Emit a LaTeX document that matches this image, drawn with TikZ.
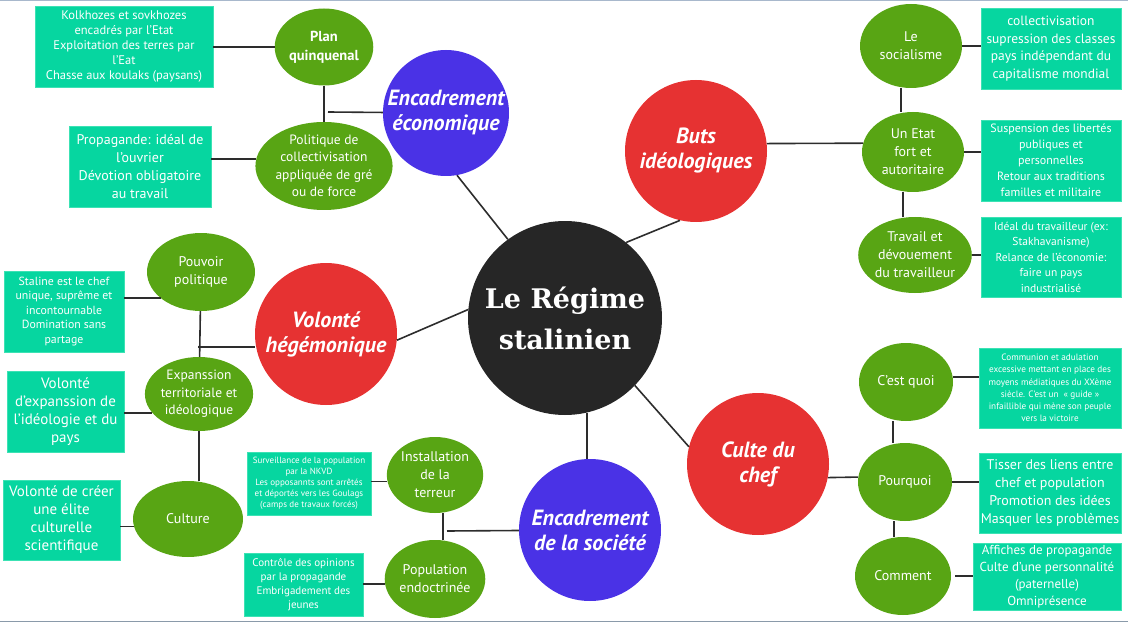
\documentclass[tikz,border=0pt]{standalone}
\usepackage{fontspec}
\setmainfont{PT Sans}
\newfontfamily\slab{DejaVu Serif}
\usetikzlibrary{shapes.geometric}
\definecolor{tealbox}{RGB}{6,214,160}
\definecolor{tealedge}{RGB}{60,226,180}
\definecolor{gell}{RGB}{88,165,20}
\definecolor{rcirc}{RGB}{230,50,50}
\definecolor{bcirc}{RGB}{74,50,230}
\definecolor{kcirc}{RGB}{38,38,38}
\definecolor{lnk}{RGB}{45,45,45}
\definecolor{frametop}{RGB}{168,184,204}
\definecolor{framebot}{RGB}{138,154,170}
\newcommand\fsz[2]{\fontsize{#1}{#2}\selectfont}
\tikzset{
  box/.style={rectangle, fill=tealbox, draw=tealedge, line width=0.8pt, inner sep=0pt, align=center, text=white},
  ell/.style={ellipse, fill=gell, inner sep=0pt, align=center, text=white, font=\fsz{14}{18}},
  bigc/.style={circle, inner sep=0pt, align=center, text=white, font=\bfseries\itshape\fsz{22}{25}},
  lnkline/.style={draw=lnk, line width=1.6pt}
}
\begin{document}
\begin{tikzpicture}[x=1pt,y=-1pt]
\useasboundingbox (0,0) rectangle (1128,623);
\draw[frametop, line width=1.2pt] (0,0.6) -- (1128,0.6);
\draw[framebot, line width=1.4pt] (0,621.5) -- (1128,621.5);

% central and main circles
\node[bigc, fill=kcirc, minimum size=194pt, font=\slab\bfseries\fsz{27}{41}] (c) at (565,318) {Le Régime\\stalinien};
\node[bigc, fill=bcirc, minimum size=126pt] (eco) at (446,113) {Encadrement\\économique};
\node[bigc, fill=rcirc, minimum size=142pt] (buts) at (696,151) {Buts\\idéologiques};
\node[bigc, fill=rcirc, minimum size=142pt] (vol) at (326,334) {Volonté\\hégémonique};
\node[bigc, fill=rcirc, minimum size=142pt] (culte) at (758,464) {Culte du\\chef};
\node[bigc, fill=bcirc, minimum size=142pt] (soc) at (590,530) {Encadrement\\de la société};

% green ellipses
\node[ell, minimum width=96pt, minimum height=77pt, font=\bfseries\fsz{14.5}{19}] (plan) at (324,47) {Plan\\quinquenal};
\node[ell, minimum width=124pt, minimum height=82pt, font=\fsz{13.5}{17.5}] (pol) at (324,166) {Politique de\\collectivisation\\appliquée de gré\\ou de force};
\node[ell, minimum width=108pt, minimum height=78pt] (pp) at (201,272) {Pouvoir\\politique};
\node[ell, minimum width=108pt, minimum height=74pt, font=\fsz{13.5}{17.5}] (exp) at (199,394) {Expanssion\\territoriale et\\idéologique};
\node[ell, minimum width=110pt, minimum height=76pt] (cult) at (188,519) {Culture};
\node[ell, minimum width=96pt, minimum height=76pt] (inst) at (435,475) {Installation\\de la\\terreur};
\node[ell, minimum width=96pt, minimum height=78pt] (pop) at (435,579) {Population\\endoctrinée};
\node[ell, minimum width=102pt, minimum height=84pt] (sociz) at (911,46) {Le\\socialisme};
\node[ell, minimum width=102pt, minimum height=80pt] (etat) at (913,152) {Un Etat\\fort et\\autoritaire};
\node[ell, minimum width=102pt, minimum height=76pt] (trav) at (915,255) {Travail et\\dévouement\\du travailleur};
\node[ell, minimum width=94pt, minimum height=78pt] (cq) at (906,382) {C'est quoi};
\node[ell, minimum width=94pt, minimum height=78pt] (pq) at (905,482) {Pourquoi};
\node[ell, minimum width=96pt, minimum height=78pt] (cm) at (903,576) {Comment};

% boxes
\node[box, minimum width=178pt, minimum height=81pt, font=\fsz{12.5}{15}] (kolk) at (124,46.5) {Kolkhozes et sovkhozes\\encadrés par l'Etat\\Exploitation des terres par\\l'Eat\\Chasse aux koulaks (paysans)};
\node[box, minimum width=142pt, minimum height=81pt, font=\fsz{14}{18}] (prop) at (140,166.5) {Propagande: idéal de\\l'ouvrier\\Dévotion obligatoire\\au travail};
\node[box, minimum width=120pt, minimum height=81pt, font=\fsz{11.8}{14.5}] (stal) at (64,311.5) {Staline est le chef\\unique, suprême et\\incontournable\\Domination sans\\partage};
\node[box, minimum width=117pt, minimum height=81pt, font=\fsz{15}{18}] (vexp) at (65.5,411.5) {Volonté\\d'expanssion de\\l'idéologie et du\\pays};
\node[box, minimum width=117pt, minimum height=80pt, font=\fsz{15}{18}] (creer) at (61.5,520) {Volonté de créer\\une élite\\culturelle\\scientifique};
\node[box, minimum width=124pt, minimum height=63pt, font=\fsz{9}{11}] (surv) at (309,483.5) {Surveillance de la population\\par la NKVD\\Les opposannts sont arrêtés\\et déportés vers les Goulags\\(camps de travaux forcés)};
\node[box, minimum width=119pt, minimum height=63pt, font=\fsz{11}{14}] (ctrl) at (303.5,584.5) {Contrôle des opinions\\par la propagande\\Embrigadement des\\jeunes};
\node[box, minimum width=140pt, minimum height=81pt, font=\fsz{13.5}{17.5}] (bsoc) at (1051,48.5) {collectivisation\\supression des classes\\pays indépendant du\\capitalisme mondial};
\node[box, minimum width=140pt, minimum height=81pt, font=\fsz{12}{16}] (bsusp) at (1051,160.5) {Suspension des libertés\\publiques et\\personnelles\\Retour aux traditions\\familles et militaire};
\node[box, minimum width=140pt, minimum height=80pt, font=\fsz{11.5}{15.5}] (bideal) at (1051,257) {Idéal du travailleur (ex:\\Stakhavanisme)\\Relance de l'économie:\\faire un pays\\industrialisé};
\node[box, minimum width=142pt, minimum height=80pt, font=\fsz{9.2}{12.3}] (bcomm) at (1050,388) {Communion et adulation\\excessive mettant en place des\\moyens médiatiques du XXème\\siècle. C'est un~ « guide »\\infaillible qui mène son peuple\\vers la victoire};
\node[box, minimum width=142pt, minimum height=80pt, font=\fsz{14}{18}] (btiss) at (1050,493) {Tisser des liens entre\\chef et population\\Promotion des idées\\Masquer les problèmes};
\node[box, minimum width=148pt, minimum height=67pt, font=\fsz{13}{17}] (baff) at (1047,576.5) {Affiches de propagande\\Culte d'une personnalité\\(paternelle)\\Omniprésence};

% junction coordinates
\coordinate (jeco) at (328,112);
\coordinate (jvol) at (198,347);
\coordinate (jsoc) at (447,531);

% connectors: centre
\draw[lnkline] (c.126) -- (eco.280);
\draw[lnkline] (c.51) -- (buts.257);
\draw[lnkline] (c.175) -- (vol.355);
\draw[lnkline] (c.316) -- (culte.166);
\draw[lnkline] (c.283) -- (c.283 |- soc.north);

% encadrement economique
\draw[lnkline] (plan) -- (pol);
\draw[lnkline] (jeco) -- (eco);
\draw[lnkline] (kolk.east |- plan.west) -- (plan.west);
\draw[lnkline] (prop.east |- pol.174) -- (pol.174);

% volonte hegemonique
\draw[lnkline] (pp) -- (exp);
\draw[lnkline] (exp.south) -- (exp.south |- cult.north);
\draw[lnkline] (jvol) -- (jvol -| vol.west);
\draw[lnkline] (stal.east |- pp.213) -- (pp.213);
\draw[lnkline] (vexp.east |- exp.202) -- (exp.202);
\draw[lnkline] (creer.east |- cult.188) -- (cult.188);

% encadrement de la societe
\draw[lnkline] ([xshift=8pt]inst.south) -- ([xshift=8pt]pop.north);
\draw[lnkline] (jsoc) -- (soc);
\draw[lnkline] (surv.east |- inst.188) -- (inst.188);
\draw[lnkline] (ctrl.east |- pop.186) -- (pop.186);

% buts ideologiques
\draw[lnkline] (buts.6.5) -- (etat.170);
\draw[lnkline] ([xshift=-10pt]sociz.south) -- ([xshift=-12pt]etat.north);
\draw[lnkline] ([xshift=-10pt]etat.south) -- ([xshift=-12pt]trav.north);
\draw[lnkline] (sociz.east) -- (sociz.east -| bsoc.west);
\draw[lnkline] (etat.east) -- (etat.east -| bsusp.west);
\draw[lnkline] (trav.east) -- (trav.east -| bideal.west);

% culte du chef
\draw[lnkline] (culte.349) -- (pq.174);
\draw[lnkline] ([xshift=-13pt]cq.south) -- ([xshift=-12pt]pq.north);
\draw[lnkline] ([xshift=-11pt]pq.south) -- ([xshift=-9pt]cm.north);
\draw[lnkline] (cq.6) -- (cq.6 -| bcomm.west);
\draw[lnkline] (pq.east) -- (pq.east -| btiss.west);
\draw[lnkline] ([xshift=4pt]cm.east) -- (cm.east -| baff.west);
\end{tikzpicture}
\end{document}
